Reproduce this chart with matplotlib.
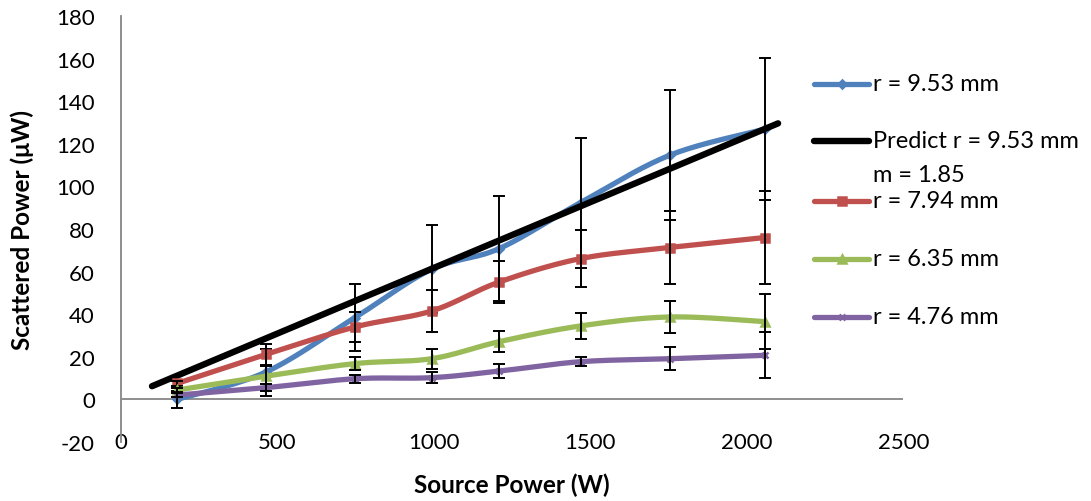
import numpy as np
import matplotlib.pyplot as plt
from matplotlib.lines import Line2D

# source power (W)
source_power = [180, 463, 748, 993, 1209, 1469, 1755, 2058]

r953 = [0.0, 12.8, 38.4, 61.1, 70.8, 92.4, 114.7, 126.9]
r953_err = [4.0, 11.0, 15.6, 20.7, 24.7, 30.5, 30.6, 33.5]
r794 = [7.5, 21.1, 34.0, 41.5, 55.1, 66.1, 71.3, 76.0]
r794_err = [1.0, 5.0, 7.0, 10.0, 10.0, 13.5, 17.0, 22.0]
r635 = [4.4, 10.9, 16.8, 19.1, 27.1, 34.5, 38.7, 36.5]
r635_err = [1.0, 5.0, 3.0, 4.6, 4.8, 6.2, 7.7, 13.0]
r476 = [2.0, 5.5, 9.7, 10.2, 13.3, 17.7, 19.1, 20.7]
r476_err = [1.0, 1.5, 1.8, 2.6, 3.2, 2.1, 5.3, 10.8]

predict_x = [100, 2100]
predict_y = [6.2, 129.6]

xticks = [0, 500, 1000, 1500, 2000, 2500]
yticks = list(range(-20, 181, 20))

FONT = ['Lato', 'DejaVu Sans']
plt.rcParams['font.family'] = FONT
plt.rcParams['axes.unicode_minus'] = False


def smooth(x, y, n=30):
    # excel style smoothed line (uniform catmull-rom)
    p = np.column_stack([x, y]).astype(float)
    p = np.vstack([p[0], p, p[-1]])
    out = []
    t = np.linspace(0, 1, n, endpoint=False)[:, None]
    for i in range(1, len(p) - 2):
        p0, p1, p2, p3 = p[i - 1], p[i], p[i + 1], p[i + 2]
        seg = 0.5 * ((2 * p1) + (-p0 + p2) * t + (2 * p0 - 5 * p1 + 4 * p2 - p3) * t ** 2
                     + (-p0 + 3 * p1 - 3 * p2 + p3) * t ** 3)
        out.append(seg)
    out.append(p[-2][None, :])
    out = np.vstack(out)
    return out[:, 0], out[:, 1]


BLUE, RED, GREEN, PURPLE = '#4F81BD', '#C0504D', '#9BBB59', '#8064A2'

fig = plt.figure(figsize=(10.91, 5.02), dpi=100)
ax = fig.add_axes([120.7 / 1091, 59 / 502, 782.6 / 1091, 426 / 502])


def draw(vals, err, col, mk, ms, z):
    sx, sy = smooth(source_power, vals)
    ax.plot(sx, sy, color=col, lw=3.8, solid_capstyle='round', zorder=z)
    ax.plot(source_power, vals, ls='none', marker=mk, color=col, ms=ms, mew=1.8, zorder=z)
    ax.errorbar(source_power, vals, yerr=err, fmt='none', ecolor='black',
                elinewidth=1.4, capsize=4, capthick=1.4, zorder=z + 0.5)


draw(r953, r953_err, BLUE, 'D', 4, 3)
ax.plot(predict_x, predict_y, color='black', lw=4.6, solid_capstyle='round', zorder=4)
draw(r794, r794_err, RED, 's', 5.5, 5)
draw(r635, r635_err, GREEN, '^', 5.5, 6)
draw(r476, r476_err, PURPLE, 'x', 4.5, 7)

ax.set_xlim(0, 2500)
ax.set_ylim(-20, 180)
ax.set_xticks(xticks)
ax.set_yticks(yticks)
for s in ['top', 'right', 'bottom']:
    ax.spines[s].set_visible(False)
ax.spines['left'].set_color('#868686')
ax.spines['left'].set_linewidth(1.3)
ax.axhline(0, color='#868686', lw=1.3, zorder=1)
ax.tick_params(axis='x', length=0, pad=0, labelsize=16)
ax.tick_params(axis='y', length=0, pad=18.5, labelsize=16)
for lab in ax.get_xticklabels():
    lab.set_va('center')

ax.set_xlabel('Source Power (W)', fontsize=17.5, fontweight='bold', va='center')
ax.xaxis.set_label_coords(0.4994, -0.0986)
ax.set_ylabel('Scattered Power (\u03bcW)', fontsize=17.5, fontweight='bold', va='center')
ax.yaxis.set_label_coords(-0.126, 0.5)

# legend drawn by hand to follow the excel layout
W, H = 1091, 502
rows = [
    ('r = 9.53 mm', BLUE, 'D', 4, 85),
    ('Predict r = 9.53 mm', 'black', None, 0, 141.7),
    ('r = 7.94 mm', RED, 's', 5.5, 201.7),
    ('r = 6.35 mm', GREEN, '^', 5.5, 260),
    ('r = 4.76 mm', PURPLE, 'x', 4.5, 317.7),
]
for label, col, mk, ms, ypx in rows:
    yf = 1 - ypx / H
    lw = 4.6 if mk is None else 3.8
    fig.add_artist(Line2D([814 / W, 869 / W], [yf, yf], color=col, lw=lw,
                          solid_capstyle='round', transform=fig.transFigure))
    if mk:
        fig.add_artist(Line2D([841.5 / W], [yf], color=col, marker=mk, ms=ms, mew=1.8,
                              transform=fig.transFigure))
    fig.text(873 / W, yf, label, fontsize=17, va='center', ha='left')
fig.text(873 / W, 1 - 175 / H, 'm = 1.85', fontsize=17, va='center', ha='left')

fig.savefig('out.png', dpi=100)
